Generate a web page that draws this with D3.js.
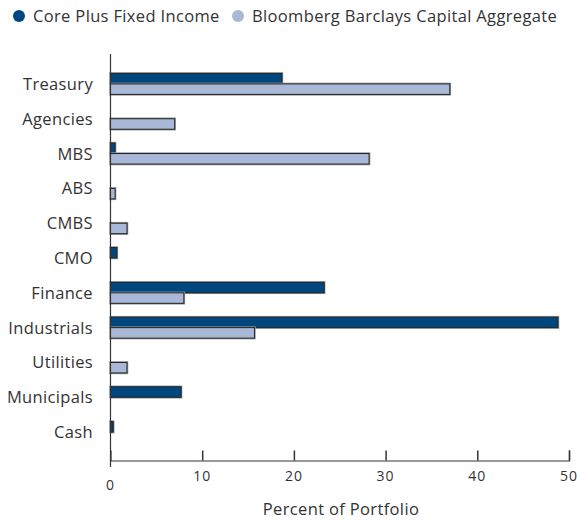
<!DOCTYPE html>
<html>
<head>
<meta charset="utf-8">
<script src="https://cdn.jsdelivr.net/npm/d3@7"></script>
<style>
  body { margin: 0; background: #fff; }
  svg text { font-family: "Open Sans", Lato, sans-serif; fill: #333; }
</style>
</head>
<body>
<svg id="canvas" width="579" height="521"></svg>
<script>
const categories = ['Treasury', 'Agencies', 'MBS', 'ABS', 'CMBS', 'CMO', 'Finance', 'Industrials', 'Utilities', 'Municipals', 'Cash']
const corePlus = [18.7, 0, 0.5, 0, 0, 0.7, 23.3, 48.8, 0, 7.7, 0.3]
const aggregate = [37.0, 7.0, 28.2, 0.5, 1.8, 0, 8.0, 15.7, 1.8, 0, 0]
const seriesNames = ['Core Plus Fixed Income', 'Bloomberg Barclays Capital Aggregate']
const tickValues = [0, 10, 20, 30, 40, 50]

const colors = ['#00467f', '#a8b8d6']

let canvas = d3.select('#canvas')

let x = d3.scaleLinear().domain([0, 50]).range([110.5, 569])
let y = d3.scaleBand().domain(categories).range([66.5, 449.5])
let sub = d3.scaleBand().domain([0, 1]).range([-10.5, 10.5])

// legend
let legend = canvas.append('g')
seriesNames.forEach((name, i) => {
    let lx = i === 0 ? 19 : 238
    legend.append('circle').attr('cx', lx).attr('cy', 16).attr('r', 6).attr('fill', colors[i])
    legend.append('text').attr('x', lx + 14).attr('y', 21.5)
        .attr('font-size', 16.5).attr('letter-spacing', 0.35).text(name)
})

// bars
let series = [corePlus, aggregate]
series.forEach((values, s) => {
    let rows = categories.map((c, i) => ({ cat: c, value: values[i] })).filter(d => d.value > 0)
    let g = canvas.append('g')
    let yPos = d => y(d.cat) + y.bandwidth() / 2 + sub(s)
    g.selectAll('rect.shadow')
        .data(rows)
        .enter()
        .append('rect')
        .attr('class', 'shadow')
        .attr('x', x(0))
        .attr('y', yPos)
        .attr('width', d => x(d.value) - x(0))
        .attr('height', sub.bandwidth())
        .attr('fill', 'none')
        .attr('stroke', '#9a9a9a')
        .attr('stroke-width', 2.5)
    g.selectAll('rect.bar')
        .data(rows)
        .enter()
        .append('rect')
        .attr('class', 'bar')
        .attr('x', x(0))
        .attr('y', yPos)
        .attr('width', d => x(d.value) - x(0))
        .attr('height', sub.bandwidth())
        .attr('fill', colors[s])
        .attr('stroke', '#222')
        .attr('stroke-width', 1)
})

// category labels
canvas.append('g')
    .selectAll('text')
    .data(categories)
    .enter()
    .append('text')
    .attr('x', 93)
    .attr('y', d => y(d) + y.bandwidth() / 2 + 6)
    .attr('text-anchor', 'end')
    .attr('font-size', 16.5)
    .attr('letter-spacing', 0.35)
    .text(d => d)

// axes
canvas.append('line')
    .attr('x1', x(0)).attr('x2', x(0))
    .attr('y1', 54).attr('y2', 467)
    .attr('stroke', '#333').attr('stroke-width', 1.2)

let axis = d3.axisTop(x).tickValues(tickValues).tickSize(10).tickFormat('')
let axisG = canvas.append('g')
    .attr('transform', 'translate(0, 460.5)')
    .call(axis)
axisG.select('.domain').attr('stroke', '#333').attr('stroke-width', 1.2)
axisG.selectAll('.tick line').attr('stroke', '#333').attr('stroke-width', 1.5)
axisG.selectAll('.tick').filter(d => d === 0).remove()

canvas.append('g')
    .selectAll('text')
    .data(tickValues)
    .enter()
    .append('text')
    .attr('x', d => x(d))
    .attr('y', d => d === 0 ? 490 : 481)
    .attr('text-anchor', 'middle')
    .attr('font-size', 14)
    .attr('letter-spacing', 1)
    .text(d => d)

canvas.append('text')
    .attr('x', 341)
    .attr('y', 515)
    .attr('text-anchor', 'middle')
    .attr('font-size', 16.5)
    .attr('letter-spacing', 0.35)
    .text('Percent of Portfolio')
</script>
</body>
</html>
